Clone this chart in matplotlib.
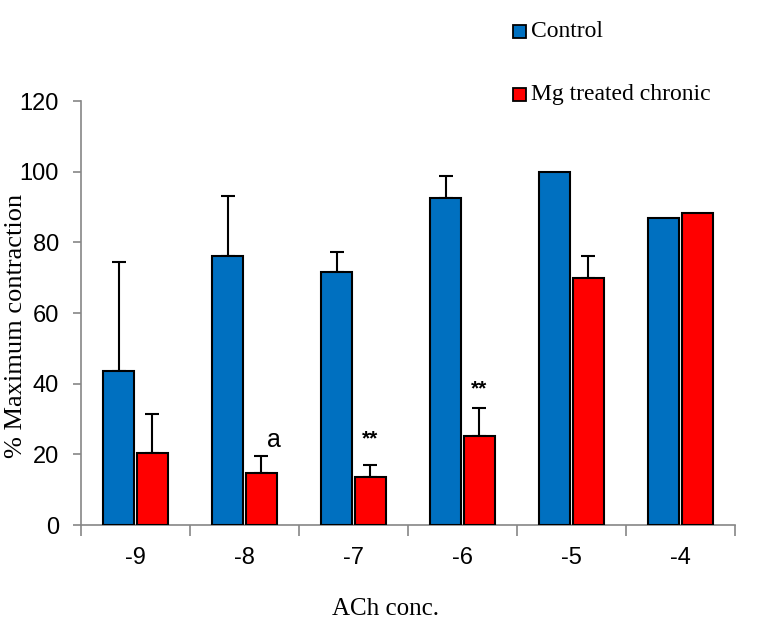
import matplotlib
matplotlib.use("Agg")
import matplotlib.pyplot as plt
from matplotlib.patches import Rectangle
import numpy as np

categories = ["-9", "-8", "-7", "-6", "-5", "-4"]
control = [43.5, 76.2, 71.5, 92.5, 100.0, 87.0]
control_err = [30.8, 17.0, 5.8, 6.3, 0.0, 0.0]
mg = [20.3, 14.8, 13.6, 25.2, 70.0, 88.2]
mg_err = [11.2, 4.8, 3.3, 8.0, 6.0, 0.0]
series_names = ["Control", "Mg treated chronic"]
annotations = [(1, "a", 24.0), (2, "**", 24.5), (3, "**", 38.6)]

blue = "#0070C0"
red = "#FF0000"
axis_gray = "#868686"

fig = plt.figure(figsize=(7.57, 6.21), dpi=100)
ax = fig.add_axes([81/757, 1-525/621, (735-81)/757, (525-101)/621])

x = np.arange(len(categories))
w = 0.28
off = 0.155
ax.bar(x - off, control, w, color=blue, edgecolor="black", linewidth=1.5, zorder=3)
ax.bar(x + off, mg, w, color=red, edgecolor="black", linewidth=1.5, zorder=3)

for xi, v, e in zip(x - off, control, control_err):
    if e > 0:
        ax.errorbar(xi, v, yerr=[[0], [e]], fmt="none", ecolor="black",
                    elinewidth=1.5, capsize=5, capthick=1.5, zorder=2)
for xi, v, e in zip(x + off, mg, mg_err):
    if e > 0:
        ax.errorbar(xi, v, yerr=[[0], [e]], fmt="none", ecolor="black",
                    elinewidth=1.5, capsize=5, capthick=1.5, zorder=2)

for ci, txt, yv in annotations:
    if txt == "a":
        ax.text(ci + 0.27, yv, txt, ha="center", va="center", fontsize=18,
                family="Liberation Sans")
    else:
        ax.text(ci + 0.155, yv, txt, ha="center", va="center", fontsize=15,
                family="Liberation Sans", fontweight="bold")

ax.set_xlim(-0.5, len(categories) - 0.5)
ax.set_ylim(0, 120)
ax.set_yticks(np.arange(0, 121, 20))
ax.set_yticklabels([str(v) for v in range(0, 121, 20)], fontsize=17,
                   family="Liberation Sans")
ax.set_xticks(x)
ax.set_xticklabels(categories, fontsize=17, family="Liberation Sans")
ax.set_xticks(np.arange(-0.5, len(categories), 1.0), minor=True)
ax.tick_params(axis="x", which="major", length=0, pad=16)
ax.tick_params(axis="x", which="minor", length=8, color=axis_gray, width=1.2,
               direction="out")
ax.tick_params(axis="y", length=6, color=axis_gray, width=1.2, direction="out",
               pad=10)

for s in ["top", "right"]:
    ax.spines[s].set_visible(False)
for s in ["left", "bottom"]:
    ax.spines[s].set_color(axis_gray)
    ax.spines[s].set_linewidth(1.2)

fig.text(16/757, 1-326/621, "% Maximum contraction", rotation=90, ha="center",
         va="center", fontsize=19, family="Liberation Serif")
fig.text(385/757, 1-609/621, "ACh conc.", ha="center", va="center",
         fontsize=18, family="Liberation Serif")

# legend
for (ytop, col, name) in [(25, blue, series_names[0]), (88, red, series_names[1])]:
    fig.patches.append(Rectangle((513/757, 1-(ytop+13)/621), 13/757, 13/621,
                                 transform=fig.transFigure, facecolor=col,
                                 edgecolor="black", linewidth=1.3))
    fig.text(531/757, 1-(ytop+6.5)/621, name, ha="left", va="center",
             fontsize=17, family="Liberation Serif")

fig.savefig("out.png", dpi=100)
